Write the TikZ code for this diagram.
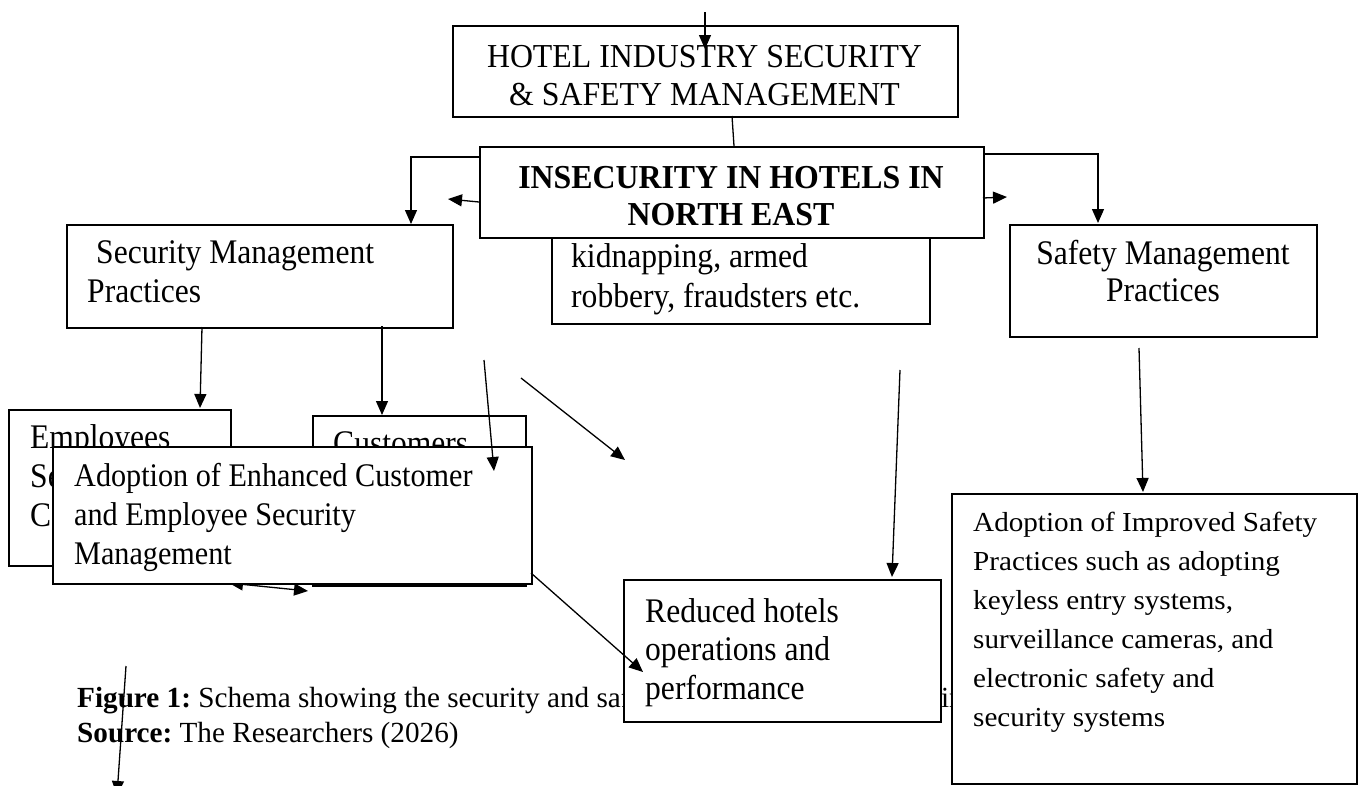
\documentclass[tikz,border=0pt]{standalone}
\usepackage{fontspec}
\setmainfont{Liberation Serif}
\newfontfamily\bodyface{Liberation Serif}[FakeStretch=0.915]
\newfontfamily\headface{Liberation Serif}[FakeStretch=0.95]
\newfontfamily\imprface{Liberation Serif}[FakeStretch=1.06]
\newcommand\nsp{\spaceskip=0pt\xspaceskip=0pt\relax}
\usetikzlibrary{arrows.meta}
\begin{document}
\frenchspacing
\begin{tikzpicture}[x=1pt,y=-1pt,
  box/.style={draw, line width=1.7pt, fill=white, inner sep=0pt, anchor=north west},
  ltxt/.style={inner sep=0pt, anchor=base west, align=left},
  ctxt/.style={inner sep=0pt, anchor=base},
  tip/.style={-{Triangle[length=14pt,width=12pt]}},
  arr/.style={line width=1.3pt, tip},
  plain/.style={line width=1.3pt},
  body/.style={font=\bodyface\fontsize{34.5}{39}\selectfont},
]
\useasboundingbox (0,0) rectangle (1358,785);

% caption (partly hidden by boxes drawn later)
\node[ltxt, text width=1300pt, font=\fontsize{29.2}{35}\selectfont] (cap) at (77,707)
  {\nsp\textbf{Figure 1:} Schema showing the security and safety management practices in hotels\\\textbf{Source:} The Researchers (2026)};
\coordinate (capA) at (126,666);
\coordinate (capB) at (117,795);
\draw[arr] (capA) -- (capB);

% employees / customers boxes
\node[box, minimum width=222, minimum height=156] (emp) at (8,409) {};
\node[ltxt, body, text width=190pt] (empt) at (30,448) {\nsp Employees\\Security\\Concerns};
\node[box, minimum width=213, minimum height=170] (cus) at (312,415) {};
\node[ltxt, body, text width=190pt] (cust) at (333,454) {\nsp Customers\\Security\\Concerns};

\coordinate (dA) at (229,583);
\coordinate (dB) at (308,591);
\draw[line width=1.3pt, {Triangle[length=14pt,width=12pt]}-{Triangle[length=14pt,width=12pt]}] (dA) -- (dB);

% adoption of enhanced customer ...
\node[box, minimum width=479, minimum height=137] (adopt) at (52,446) {};
\node[ltxt, font=\bodyface\fontsize{33}{39}\selectfont, text width=440pt] (adoptt) at (74,486)
  {\nsp Adoption of Enhanced Customer\\and Employee Security\\Management};

% security management practices
\node[box, minimum width=386, minimum height=103] (secm) at (66,224) {};
\node[ltxt, body, text width=360pt] (secmt) at (87,263) {\nsp\hspace*{9pt}Security Management\\Practices};

\coordinate (s1) at (202,327); \coordinate (e1) at (200,408);
\coordinate (s2) at (382,326); \coordinate (e2) at (382,415);
\draw[arr] (s1) -- (e1);
\draw[arr] (s2) -- (e2);

\coordinate (f1) at (484,360); \coordinate (g1) at (494,471);
\coordinate (f2) at (521,378); \coordinate (g2) at (625,460);
\draw[arr] (f1) -- (g1);
\draw[arr] (f2) -- (g2);

% kidnapping box (top hidden)
\node[box, minimum width=378, minimum height=128] (kid) at (551,195) {};
\node[ltxt, font=\bodyface\fontsize{34.5}{40}\selectfont, text width=360pt] (kidt) at (571,267)
  {\nsp kidnapping, armed\\robbery, fraudsters etc.};

% insecurity box
\node[box, minimum width=504, minimum height=91] (insec) at (479,146) {};
\node[ctxt, font=\headface\bfseries\fontsize{33.5}{37}\selectfont, text width=500pt] (insect) at (731,188)
  {\centering\nsp INSECURITY IN HOTELS IN\\NORTH EAST\par};

% hotel box
\node[box, minimum width=505, minimum height=91] (hotel) at (452,25) {};
\node[ctxt, font=\headface\fontsize{33.5}{38}\selectfont, text width=500pt] (hotelt) at (704.5,67)
  {\centering\nsp HOTEL INDUSTRY SECURITY\\\& SAFETY MANAGEMENT\par};

\coordinate (t0) at (705,12); \coordinate (t1) at (705,49);
\draw[arr] (t0) -- (t1);
\coordinate (h1) at (732,116); \coordinate (h2) at (734,146);
\draw[plain] (h1) -- (h2);

\coordinate (l0) at (479,157); \coordinate (l1) at (411,157); \coordinate (l2) at (411,224);
\draw[arr] (l0) -- (l1) -- (l2);
\coordinate (m0) at (479,202); \coordinate (m1) at (448,199);
\draw[arr] (m0) -- (m1);
\coordinate (r0) at (983,154); \coordinate (r1) at (1098,154); \coordinate (r2) at (1098,223);
\draw[arr] (r0) -- (r1) -- (r2);
\coordinate (n0) at (983,198); \coordinate (n1) at (1007,197);
\draw[arr] (n0) -- (n1);

% safety management practices
\node[box, minimum width=307, minimum height=112] (safe) at (1009,224) {};
\node[ctxt, font=\bodyface\fontsize{34.5}{37}\selectfont, text width=300pt] (safet) at (1163,264)
  {\centering\nsp Safety Management\\Practices\par};
\coordinate (p0) at (1139,348); \coordinate (p1) at (1143,492);
\draw[arr] (p0) -- (p1);

% improved safety box
\node[box, minimum width=405, minimum height=290] (impr) at (951,493) {};
\node[ltxt, font=\imprface\fontsize{27.5}{39}\selectfont, text width=380pt] (imprt) at (973,531)
  {\nsp Adoption of Improved Safety\\Practices such as adopting\\keyless entry systems,\\surveillance cameras, and\\electronic safety and\\security systems};

% reduced box
\node[box, minimum width=317, minimum height=142] (red) at (623,579) {};
\node[ltxt, font=\bodyface\fontsize{34.5}{38.5}\selectfont, text width=290pt] (redt) at (645,622)
  {\nsp Reduced hotels\\operations and\\performance};
\coordinate (q0) at (900,370); \coordinate (q1) at (892,577);
\draw[arr] (q0) -- (q1);

\coordinate (f3) at (531,573); \coordinate (g3) at (643,672);
\draw[arr] (f3) -- (g3);
\end{tikzpicture}
\end{document}
